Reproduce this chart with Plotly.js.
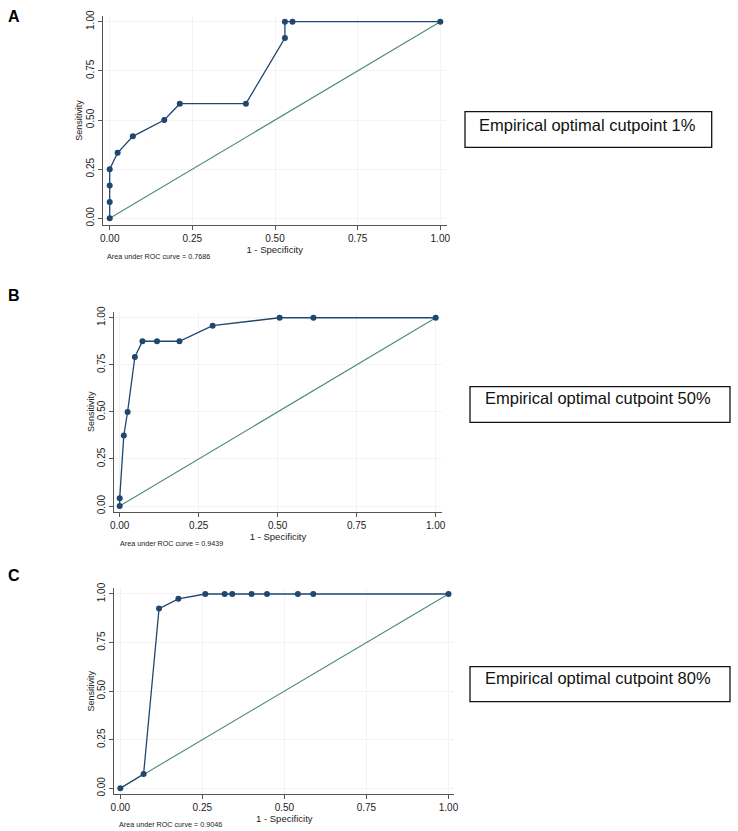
<!DOCTYPE html>
<html>
<head>
<meta charset="utf-8">
<script src="https://cdn.plot.ly/plotly-3.0.1.min.js"></script>
<style>
  html, body { margin: 0; padding: 0; background: #fff; }
  #chart { width: 738px; height: 831px; }
</style>
</head>
<body>
<div id="chart"></div>
<script>
// ROC points (1 - specificity, sensitivity)
const fprA = [0, 0, 0, 0, 0.024, 0.07, 0.165, 0.212, 0.412, 0.53, 0.53, 0.553, 1];
const tprA = [0, 0.083, 0.167, 0.25, 0.333, 0.417, 0.5, 0.583, 0.583, 0.917, 1, 1, 1];

const fprB = [0, 0, 0.013, 0.025, 0.048, 0.072, 0.118, 0.189, 0.294, 0.506, 0.613, 1];
const tprB = [0, 0.042, 0.375, 0.5, 0.792, 0.875, 0.875, 0.875, 0.958, 1, 1, 1];

const fprC = [0, 0.071, 0.118, 0.177, 0.259, 0.318, 0.341, 0.4, 0.447, 0.541, 0.588, 1];
const tprC = [0, 0.074, 0.925, 0.975, 1, 1, 1, 1, 1, 1, 1, 1];

const refX = [0, 1];
const refY = [0, 1];

const tickVals = [0, 0.25, 0.5, 0.75, 1];
const tickText = ["0.00", "0.25", "0.50", "0.75", "1.00"];

const panelLetters = ["A", "B", "C"];
const aucText = ["0.7686", "0.9439", "0.9046"];
const cutpoints = ["1%", "50%", "80%"];

const W = 738, H = 831;
const px = (p) => p / W;
const py = (p) => 1 - p / H;

const rocColor = "#1f4770";
const refColor = "#4f8a78";
const font = "Liberation Sans, Arial, sans-serif";

// panel geometry in page pixels
const panels = [
  { l: 102.7, r: 446.7, t: 16, b: 225, xr: [-0.0212, 1.0194], yr: [-0.034, 1.029],
    letterY: 17, noteX: 105, noteY: 256, box: [465, 111.7, 711.7, 147.3], textY: 125, textX: 587 },
  { l: 114.3, r: 441.7, t: 311.7, b: 511.7, xr: [-0.0171, 1.019], yr: [-0.030, 1.032],
    letterY: 295, noteX: 118, noteY: 543, box: [470, 386.7, 730, 422.3], textY: 398, textX: 598 },
  { l: 114.3, r: 454.3, t: 588.3, b: 794, xr: [-0.0183, 1.0177], yr: [-0.0293, 1.0293],
    letterY: 575, noteX: 116.5, noteY: 824, box: [470, 666.7, 730, 701.7], textY: 678, textX: 598 },
];

const series = [[fprA, tprA], [fprB, tprB], [fprC, tprC]];

const traces = [];
const layout = {
  width: W, height: H,
  margin: { l: 0, r: 0, t: 0, b: 0 },
  paper_bgcolor: "#fff",
  plot_bgcolor: "#fff",
  showlegend: false,
  font: { family: font, color: "#222" },
  annotations: [],
  shapes: [],
};

panels.forEach((p, i) => {
  const sfx = i === 0 ? "" : String(i + 1);
  const xa = "x" + sfx, ya = "y" + sfx;

  traces.push({
    type: "scatter", mode: "lines", x: refX, y: refY, xaxis: xa, yaxis: ya,
    line: { color: refColor, width: 1.1 }, hoverinfo: "skip",
  });
  traces.push({
    type: "scatter", mode: "lines+markers", x: series[i][0], y: series[i][1],
    xaxis: xa, yaxis: ya,
    line: { color: rocColor, width: 1.3 },
    marker: { color: rocColor, size: 6 },
  });

  layout["xaxis" + sfx] = {
    domain: [px(p.l), px(p.r)], range: p.xr, anchor: ya,
    tickvals: tickVals, ticktext: tickText,
    ticks: "outside", ticklen: 4, tickcolor: "#555", tickfont: { size: 10, color: "#222" },
    showline: true, linecolor: "#555", linewidth: 1,
    showgrid: true, gridcolor: "#f3f3f3", zeroline: false,
    title: { text: "1 - Specificity", font: { size: 9.5, color: "#222" }, standoff: 1 },
  };
  layout["yaxis" + sfx] = {
    domain: [py(p.b), py(p.t)], range: p.yr, anchor: xa,
    tickvals: tickVals, ticktext: tickText, tickangle: -90,
    ticks: "outside", ticklen: 4, tickcolor: "#555", tickfont: { size: 10, color: "#222" },
    showline: true, linecolor: "#555", linewidth: 1,
    showgrid: true, gridcolor: "#f3f3f3", zeroline: false,
    title: { text: "Sensitivity", font: { size: 9, color: "#222" }, standoff: 0 },
  };

  layout.annotations.push({
    xref: "paper", yref: "paper", x: px(14), y: py(p.letterY),
    text: "<b>" + panelLetters[i] + "</b>", showarrow: false,
    font: { size: 16, color: "#000" }, xanchor: "center", yanchor: "middle",
  });
  layout.annotations.push({
    xref: "paper", yref: "paper", x: px(p.noteX), y: py(p.noteY),
    text: "Area under ROC curve = " + aucText[i], showarrow: false,
    font: { size: 7.2, color: "#222" }, xanchor: "left", yanchor: "middle",
  });

  const [bx0, by0, bx1, by1] = p.box;
  layout.shapes.push({
    type: "rect", xref: "paper", yref: "paper",
    x0: px(bx0), x1: px(bx1), y0: py(by1), y1: py(by0),
    line: { color: "#111", width: 1.3 }, fillcolor: "rgba(0,0,0,0)",
  });
  layout.annotations.push({
    xref: "paper", yref: "paper", x: px(p.textX), y: py(p.textY),
    text: "Empirical optimal cutpoint " + cutpoints[i], showarrow: false,
    font: { size: 16.5, color: "#111" }, xanchor: "center", yanchor: "middle",
  });
});

Plotly.newPlot("chart", traces, layout, { displayModeBar: false, staticPlot: true });
</script>
</body>
</html>
